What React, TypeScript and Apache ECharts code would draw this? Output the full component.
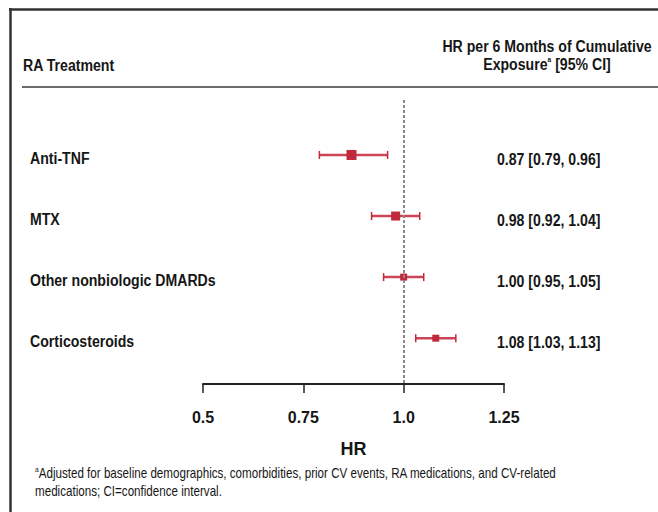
import React, { useEffect, useRef } from "react";
import * as echarts from "echarts";

// ---- data ----
const categories = ["Anti-TNF", "MTX", "Other nonbiologic DMARDs", "Corticosteroids"];
const hrValues = [0.87, 0.98, 1.0, 1.08];
const ciLower = [0.79, 0.92, 0.95, 1.03];
const ciUpper = [0.96, 1.04, 1.05, 1.13];
const tickValues = [0.5, 0.75, 1.0, 1.25];
const tickLabels = ["0.5", "0.75", "1.0", "1.25"];
const referenceValue = 1.0;
const headerLeft = "RA Treatment";
const headerRight1 = "HR per 6 Months of Cumulative";
const headerRight2a = "Exposure";
const headerRight2b = " [95% CI]";
const axisTitle = "HR";
const footnote1 = "Adjusted for baseline demographics, comorbidities, prior CV events, RA medications, and CV-related";
const footnote2 = "medications; CI=confidence interval.";

// ---- styles ----
const FONT = "'Liberation Sans', Arial, Helvetica, sans-serif";
const NARROW = 0.83;
const RED = "#c1283b";
const RED_LINE = "#cc4556";
const INK = "#161616";
const markerSizes = [10, 9, 7, 7];

export default function App() {
  const ref = useRef<HTMLDivElement>(null);

  useEffect(() => {
    if (!ref.current) return;
    const chart = echarts.init(ref.current, undefined, { renderer: "svg" });

    const seriesData = categories.map((_, i) => [hrValues[i], ciLower[i], ciUpper[i], i]);

    const option: any = {
      animation: false,
      backgroundColor: "#ffffff",
      grid: { left: 203, right: 154, top: 100, bottom: 128 },
      xAxis: {
        type: "value",
        min: 0.5,
        max: 1.25,
        interval: 0.25,
        splitLine: { show: false },
        axisLine: { show: true, onZero: false, lineStyle: { color: "#222", width: 2 } },
        axisTick: { show: true, length: 9, lineStyle: { color: "#222", width: 1.5 } },
        axisLabel: {
          margin: 25,
          fontFamily: FONT,
          fontWeight: "bold",
          fontSize: 16,
          color: INK,
          formatter: (v: number) => {
            const idx = tickValues.findIndex((t) => Math.abs(t - v) < 1e-9);
            return idx >= 0 ? tickLabels[idx] : "";
          },
        },
        name: axisTitle,
        nameLocation: "middle",
        nameGap: 56,
        nameTextStyle: { fontFamily: FONT, fontWeight: "bold", fontSize: 18, color: INK },
      },
      yAxis: {
        type: "value",
        inverse: true,
        min: -0.9,
        max: 3.75,
        show: false,
      },
      series: [
        {
          type: "custom",
          clip: false,
          data: seriesData,
          renderItem: (params: any, api: any) => {
            const i = api.value(3) as number;
            const c = api.coord([api.value(0), i]);
            const lo = api.coord([api.value(1), i]);
            const hi = api.coord([api.value(2), i]);
            const cs = params.coordSys;
            const s = markerSizes[i];
            const cy = c[1];
            const lbl = `${hrValues[i].toFixed(2)} [${ciLower[i].toFixed(2)}, ${ciUpper[i].toFixed(2)}]`;
            return {
              type: "group",
              children: [
                { type: "line", shape: { x1: lo[0], y1: cy, x2: hi[0], y2: cy }, style: { stroke: RED_LINE, lineWidth: 2.5 } },
                { type: "line", shape: { x1: lo[0], y1: cy - 4, x2: lo[0], y2: cy + 4 }, style: { stroke: RED, lineWidth: 1.5 } },
                { type: "line", shape: { x1: hi[0], y1: cy - 4, x2: hi[0], y2: cy + 4 }, style: { stroke: RED, lineWidth: 1.5 } },
                { type: "rect", shape: { x: c[0] - s / 2, y: cy - s / 2, width: s, height: s }, style: { fill: RED } },
                {
                  type: "text",
                  x: cs.x - 173,
                  y: cy + 3,
                  scaleX: NARROW,
                  style: { text: categories[i], fill: INK, fontFamily: FONT, fontWeight: "bold", fontSize: 17, verticalAlign: "middle", align: "left" },
                },
                {
                  type: "text",
                  x: cs.x + cs.width - 7,
                  y: cy + 4,
                  scaleX: NARROW,
                  style: { text: lbl, fill: INK, fontFamily: FONT, fontWeight: "bold", fontSize: 17, verticalAlign: "middle", align: "left" },
                },
              ],
            };
          },
          markLine: {
            silent: true,
            symbol: ["none", "none"],
            label: { show: false },
            lineStyle: { color: "#8a8a8a", width: 2, type: [3, 2] },
            data: [{ xAxis: referenceValue }],
          },
        },
      ],
      graphic: [
        { type: "line", shape: { x1: 9, y1: 9.5, x2: 658, y2: 9.5 }, style: { stroke: "#333", lineWidth: 2.5 } },
        { type: "line", shape: { x1: 10.5, y1: 8, x2: 10.5, y2: 512 }, style: { stroke: "#333", lineWidth: 2.5 } },
        { type: "line", shape: { x1: 22, y1: 87, x2: 658, y2: 87 }, style: { stroke: "#3a3a3a", lineWidth: 1.5 } },
        {
          type: "text",
          x: 23,
          y: 65,
          scaleX: NARROW,
          style: { text: headerLeft, fill: INK, fontFamily: FONT, fontWeight: "bold", fontSize: 17, verticalAlign: "middle" },
        },
        {
          type: "text",
          x: 547,
          y: 46,
          scaleX: NARROW,
          style: { text: headerRight1, fill: INK, fontFamily: FONT, fontWeight: "bold", fontSize: 17, align: "center", verticalAlign: "middle" },
        },
        {
          type: "text",
          x: 547,
          y: 64,
          scaleX: NARROW,
          style: {
            text: `{b|${headerRight2a}}{sup|a}{b|${headerRight2b}}`,
            align: "center",
            verticalAlign: "middle",
            rich: {
              b: { fill: INK, fontFamily: FONT, fontWeight: "bold", fontSize: 17, lineHeight: 18 },
              sup: { fill: INK, fontFamily: FONT, fontWeight: "bold", fontSize: 8, lineHeight: 8, verticalAlign: "top" },
            },
          },
        },
        {
          type: "text",
          x: 35,
          y: 473,
          scaleX: NARROW,
          style: {
            text: `{sup|a}{t|${footnote1}}`,
            verticalAlign: "middle",
            rich: {
              t: { fill: INK, fontFamily: FONT, fontSize: 14, lineHeight: 16 },
              sup: { fill: INK, fontFamily: FONT, fontSize: 8, lineHeight: 8, verticalAlign: "top" },
            },
          },
        },
        {
          type: "text",
          x: 35,
          y: 491,
          scaleX: NARROW,
          style: { text: footnote2, fill: INK, fontFamily: FONT, fontSize: 14, verticalAlign: "middle" },
        },
      ],
    };

    chart.setOption(option);
    return () => chart.dispose();
  }, []);

  return <div ref={ref} style={{ position: "absolute", left: 0, top: 0, width: 658, height: 512 }} />;
}
